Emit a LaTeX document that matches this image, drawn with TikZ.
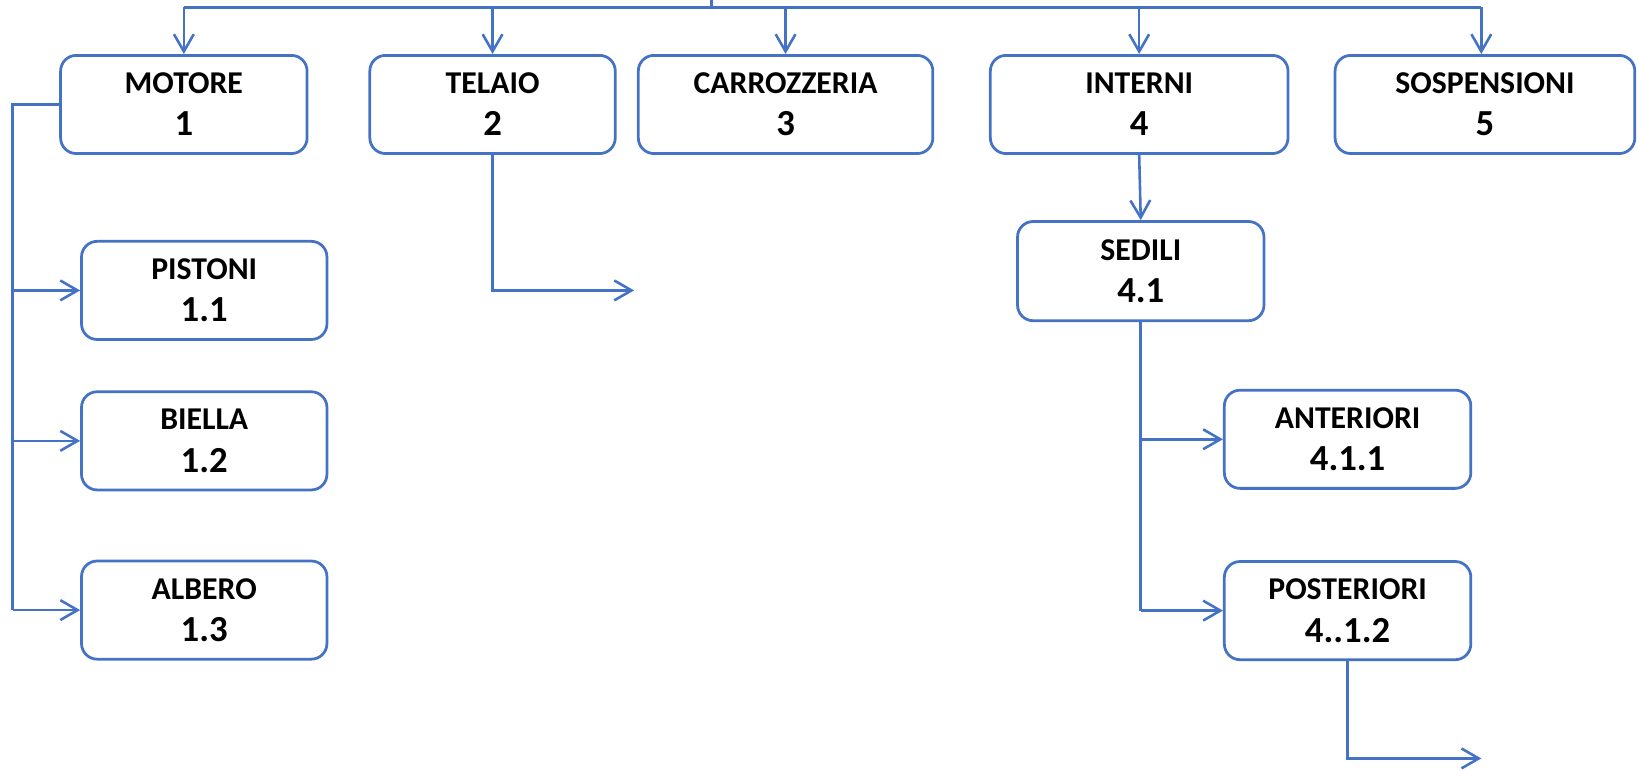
\documentclass[tikz,border=0pt]{standalone}
\usepackage{fontspec}
\setmainfont{Carlito}
\usetikzlibrary{arrows.meta}
\definecolor{lineblue}{RGB}{68,114,196}
\newcommand{\numsize}{\fontsize{20}{21}\selectfont}

\begin{document}
\begin{tikzpicture}[x=0.02cm,y=-0.02cm]
\tikzset{box/.style = {draw=lineblue,line width=1.5pt,rounded corners=0.3cm,minimum width=4.72cm,minimum height=1.88cm,align=center,font=\bfseries\fontsize{17.3}{21}\selectfont}}
\tikzset{line/.style = {draw=lineblue,line width=1.4pt}}
\tikzset{edge/.style = {line,-{Straight Barb[length=3.3mm,width=3.8mm,line width=1.4pt]}}}

\useasboundingbox (0,0) rectangle (1568,738);

\node[box] (motore) at (176,100) {MOTORE\\[2pt]\numsize 1};
\node[box,minimum width=4.7cm] (telaio) at (471.5,100) {TELAIO\\[2pt]\numsize 2};
\node[box,minimum width=5.64cm] (carrozzeria) at (752,100) {CARROZZERIA\\[2pt]\numsize 3};
\node[box,minimum width=5.7cm] (interni) at (1090.5,100) {INTERNI\\[2pt]\numsize 4};
\node[box,minimum width=5.74cm] (sospensioni) at (1421.5,100) {SOSPENSIONI\\[2pt]\numsize 5};

\node[box,minimum width=4.7cm] (pistoni) at (195.5,278) {PISTONI\\[2pt]\numsize 1.1};
\node[box,minimum width=4.7cm] (biella) at (195.5,422) {BIELLA\\[2pt]\numsize 1.2};
\node[box,minimum width=4.7cm] (albero) at (195.5,584) {ALBERO\\[2pt]\numsize 1.3};

\node[box,minimum height=1.9cm] (sedili) at (1092,259.5) {SEDILI\\[2pt]\numsize 4.1};
\node[box] (anteriori) at (1290,420.5) {ANTERIORI\\[2pt]\numsize 4.1.1};
\node[box] (posteriori) at (1290,584.5) {POSTERIORI\\[2pt]\numsize 4..1.2};

\coordinate (top) at (681,0);
\coordinate (bus) at (681,7);
\coordinate (busL) at (176,7);
\coordinate (busR) at (1418,7);
\coordinate (spineM) at (12,100);
\coordinate (telaioEnd) at (607,278);
\coordinate (postEnd) at (1418,726);

% top bus
\draw[line] (top) -- (bus);
\draw[line] (busL) -- (busR);
\draw[edge] (bus -| motore) -- (motore);
\draw[edge] (bus -| telaio) -- (telaio);
\draw[edge] (bus -| carrozzeria) -- (carrozzeria);
\draw[edge] (bus -| interni) -- (interni);
\draw[edge] (busR) -- (busR |- sospensioni.north);

% motore
\draw[line] (motore.west) -- (spineM) -- (spineM |- albero);
\draw[edge] (spineM |- pistoni) -- (pistoni);
\draw[edge] (spineM |- biella) -- (biella);
\draw[edge] (spineM |- albero) -- (albero);

% telaio
\draw[edge] (telaio.south) |- (telaioEnd);

% interni
\draw[edge] (interni.south) -- (sedili.north);
\draw[line] (sedili.south) -- (sedili.south |- posteriori);
\draw[edge] (sedili.south |- anteriori) -- (anteriori);
\draw[edge] (sedili.south |- posteriori) -- (posteriori);
\draw[edge] (posteriori.south) |- (postEnd);
\end{tikzpicture}
\end{document}
